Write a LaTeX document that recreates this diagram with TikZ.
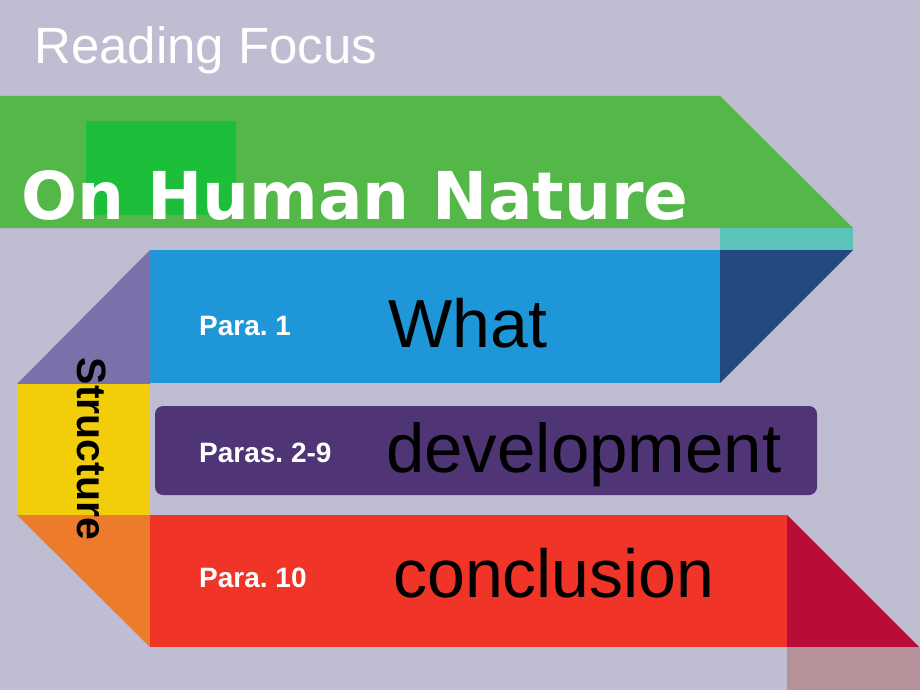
\documentclass[tikz,border=0pt]{standalone}
\usepackage{fontspec}
\setmainfont{Liberation Sans}
\newfontfamily\titlefont{DejaVu Sans}
\usepackage{tikz}
\frenchspacing
\definecolor{slidebg}{HTML}{BEBDD1}
\definecolor{titlegreen}{HTML}{53B848}
\definecolor{limegreen}{HTML}{1DBE3A}
\definecolor{tealstrip}{HTML}{5BC4BA}
\definecolor{navyfold}{HTML}{24497F}
\definecolor{skyblue}{HTML}{1F96D8}
\definecolor{lilacfold}{HTML}{7B70A9}
\definecolor{goldblock}{HTML}{F2CD0A}
\definecolor{orangefold}{HTML}{EC7B2B}
\definecolor{redband}{HTML}{F03528}
\definecolor{crimsonfold}{HTML}{B70D36}
\definecolor{dustypink}{HTML}{B69199}
\definecolor{plumband}{HTML}{4F3576}
\tikzset{
  paralab/.style={text=white, font=\fontsize{28}{32}\selectfont\bfseries, inner sep=0pt, anchor=base west},
  bigword/.style={text=black, font=\fontsize{68}{80}\selectfont, inner sep=0pt, anchor=base west},
  headlab/.style={text=white, font=\fontsize{51}{60}\selectfont, inner sep=0pt, anchor=base west},
}

\begin{document}
\frenchspacing
\begin{tikzpicture}[x=1pt,y=-1pt]
  \fill[slidebg] (0,0) rectangle (920,690);
  \useasboundingbox (0,0) rectangle (920,690);
  % title band
  \fill[titlegreen] (0,96) -- (720,96) -- (853,228) -- (0,228) -- cycle;
  \fill[limegreen] (86,121) rectangle (236,215);
  \fill[tealstrip] (720,228) rectangle (853,250);
  % first band, folds to the left
  \fill[navyfold] (720,250) -- (853,250) -- (720,383) -- cycle;
  \fill[skyblue] (150,250) rectangle (720,383);
  \fill[lilacfold] (150,250) -- (150,384) -- (17,384) -- cycle;
  \fill[goldblock] (17,384) rectangle (150,515);
  \fill[orangefold] (17,515) -- (150,515) -- (150,647) -- cycle;
  % middle band
  \fill[plumband, rounded corners=8pt] (155,406) rectangle (817,495);
  % last band
  \fill[redband] (150,515) rectangle (787,647);
  \fill[crimsonfold] (787,515) -- (787,647) -- (919,647) -- cycle;
  \fill[dustypink] (787,647) rectangle (920,690);

  \node[headlab] (heading) at (34,64) {Reading Focus};
  \node[text=white, inner sep=0pt, anchor=base west,
        font=\titlefont\fontsize{66}{80}\selectfont\bfseries] (title) at (21,219) {On Human Nature};
  \node[text=black, inner sep=0pt, rotate=-90,
        font=\fontsize{41}{48}\selectfont\bfseries] (structure) at (92,449) {Structure};

  \node[paralab] (para1) at (199,335) {Para. 1};
  \node[paralab] (para2) at (199,462) {Paras. 2-9};
  \node[paralab] (para3) at (199,587) {Para. 10};
  \node[bigword] (what) at (388,347) {What};
  \node[bigword, font=\fontsize{69}{80}\selectfont] (development) at (386,472) {development};
  \node[bigword] (conclusion) at (393,597) {conclusion};
\end{tikzpicture}
\end{document}
